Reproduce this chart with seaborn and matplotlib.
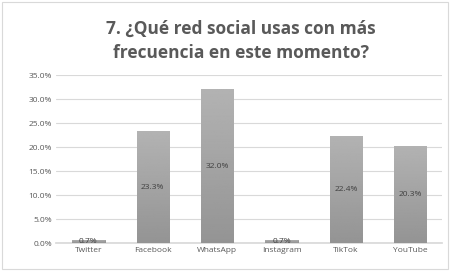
import numpy as np
import pandas as pd
import matplotlib
matplotlib.use("Agg")
import matplotlib.pyplot as plt
from matplotlib.ticker import MultipleLocator, FuncFormatter
import seaborn as sns

# Datos
redes = ["Twitter", "Facebook", "WhatsApp", "Instagram", "TikTok", "YouTube"]
porcentajes = [0.7, 23.3, 32.0, 0.7, 22.4, 20.3]
titulo = "7. ¿Qué red social usas con más\nfrecuencia en este momento?"

df = pd.DataFrame({"red": redes, "pct": porcentajes})

sns.set_theme(style="white")
plt.rcParams["font.family"] = ["Open Sans", "DejaVu Sans"]

fig = plt.figure(figsize=(4.5, 2.71), dpi=100)
ax = fig.add_axes([0.125, 0.103, 0.858, 0.62])

sns.barplot(data=df, x="red", y="pct", color="#a6a6a6", width=0.5,
            edgecolor="#8c8c8c", linewidth=0.6, ax=ax, zorder=3)

# Degradado gris en cada barra
grad = np.linspace(0.70, 0.58, 256).reshape(-1, 1)
for p in ax.patches:
    x0, y0 = p.get_x(), p.get_y()
    w, h = p.get_width(), p.get_height()
    im = ax.imshow(grad, cmap="gray", vmin=0, vmax=1, aspect="auto",
                   extent=[x0, x0 + w, y0, y0 + h], origin="upper", zorder=3.5)
    im.set_clip_path(p)

for i, v in enumerate(porcentajes):
    ax.text(i, v / 2, f"{v:.1f}%", ha="center", va="center",
            fontsize=6, color="#404040", zorder=5)

ax.set_xlim(-0.5, len(redes) - 0.5)
ax.set_ylim(0, 35)
ax.yaxis.set_major_locator(MultipleLocator(5))
ax.yaxis.set_major_formatter(FuncFormatter(lambda v, _: f"{v:.1f}%"))
ax.grid(axis="y", color="#d9d9d9", linewidth=0.8, zorder=0)
ax.set_xlabel("")
ax.set_ylabel("")
ax.tick_params(axis="both", labelsize=6, colors="#595959", length=0, pad=3)
for s in ["top", "right", "left"]:
    ax.spines[s].set_visible(False)
ax.spines["bottom"].set_color("#d9d9d9")

fig.text(0.535, 0.85, titulo, ha="center", va="center", fontsize=12.5,
         fontweight="bold", color="#595959", linespacing=1.45)

# Borde del área del gráfico
fig.patches.append(plt.Rectangle((0.004, 0.006), 0.992, 0.988, transform=fig.transFigure,
                                 fill=False, edgecolor="#d9d9d9", linewidth=0.8))

fig.savefig("out.png", dpi=100, facecolor="white")
